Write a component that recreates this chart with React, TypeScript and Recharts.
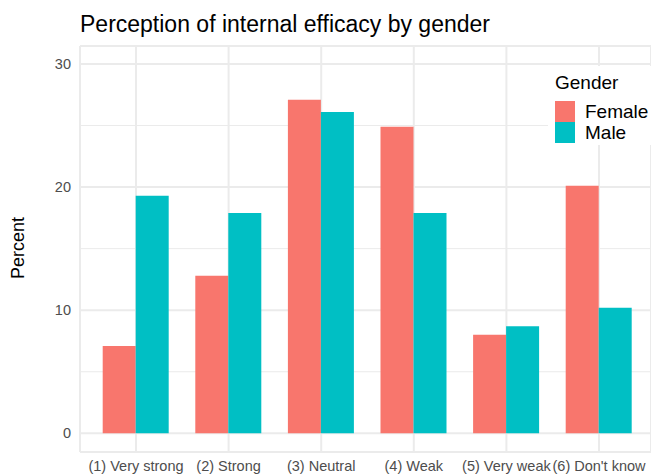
import React from 'react';
import { BarChart, Bar, XAxis, YAxis, CartesianGrid, Legend } from 'recharts';

const categories = ['(1) Very strong', '(2) Strong', '(3) Neutral', '(4) Weak', '(5) Very weak', "(6) Don't know"];
const female = [7.1, 12.8, 27.1, 24.9, 8.0, 20.1];
const male = [19.3, 17.9, 26.1, 17.9, 8.7, 10.2];
const yTicks = [0, 10, 20, 30];
const minorTicks = [5, 15, 25];
const seriesNames = ['Female', 'Male'];
const seriesColors = ['#F8766D', '#00BFC4'];

const data = categories.map((c, i) => ({ category: c, Female: female[i], Male: male[i] }));

const FONT = '"Liberation Sans", Arial, Helvetica, sans-serif';

const LegendBox = () => (
  <div style={{ position: 'relative', width: 103, height: 79, background: '#fff', fontFamily: FONT }}>
    <div style={{ position: 'absolute', left: 7, top: 7, height: 20, lineHeight: '20px', fontSize: 19, color: '#000' }}>Gender</div>
    {seriesNames.map((n, i) => (
      <React.Fragment key={n}>
        <div style={{ position: 'absolute', left: 7, top: 35 + i * 21, width: 20, height: 21, background: seriesColors[i] }} />
        <div style={{ position: 'absolute', left: 37, top: 35 + i * 21, height: 21, lineHeight: '21px', fontSize: 19, color: '#000' }}>{n}</div>
      </React.Fragment>
    ))}
  </div>
);

export default function App() {
  return (
    <div style={{ position: 'absolute', left: 0, top: 0, width: 651, height: 476, background: '#fff', fontFamily: FONT }}>
      <BarChart
        width={651}
        height={476}
        data={data}
        margin={{ top: 46, right: 0, bottom: 0, left: 0 }}
        barGap={0}
        barSize={33}
      >
        <CartesianGrid horizontalValues={minorTicks} vertical={false} stroke="#EBEBEB" strokeWidth={1} />
        <CartesianGrid stroke="#EBEBEB" strokeWidth={2} />
        <XAxis
          dataKey="category"
          height={24}
          tickLine={false}
          axisLine={false}
          tickSize={0}
          tickMargin={9}
          padding={{ left: 9.7, right: 5.7 }}
          interval={0}
          tick={{ fill: '#4D4D4D', fontSize: 14.5, fontFamily: FONT }}
        />
        <YAxis
          type="number"
          width={80}
          domain={[-1.52, 31.46]}
          ticks={yTicks}
          allowDataOverflow
          tickLine={false}
          axisLine={false}
          tickSize={0}
          tickMargin={9}
          tick={{ fill: '#4D4D4D', fontSize: 14.5, fontFamily: FONT }}
        />
        <Legend
          layout="vertical"
          align="center"
          verticalAlign="middle"
          wrapperStyle={{ position: 'absolute', left: 548, top: 66, width: 103, height: 79 }}
          content={() => <LegendBox />}
        />
        <Bar dataKey="Female" fill={seriesColors[0]} isAnimationActive={false} />
        <Bar dataKey="Male" fill={seriesColors[1]} isAnimationActive={false} />
      </BarChart>
      <svg width={651} height={476} style={{ position: 'absolute', left: 0, top: 0, pointerEvents: 'none' }}>
        <text x={80} y={32} fontSize={23} fill="#000" fontFamily={FONT}>Perception of internal efficacy by gender</text>
        <text x={18} y={248} fontSize={18} fill="#000" fontFamily={FONT} textAnchor="middle" dominantBaseline="central" transform="rotate(-90 18 248)">Percent</text>
      </svg>
    </div>
  );
}
